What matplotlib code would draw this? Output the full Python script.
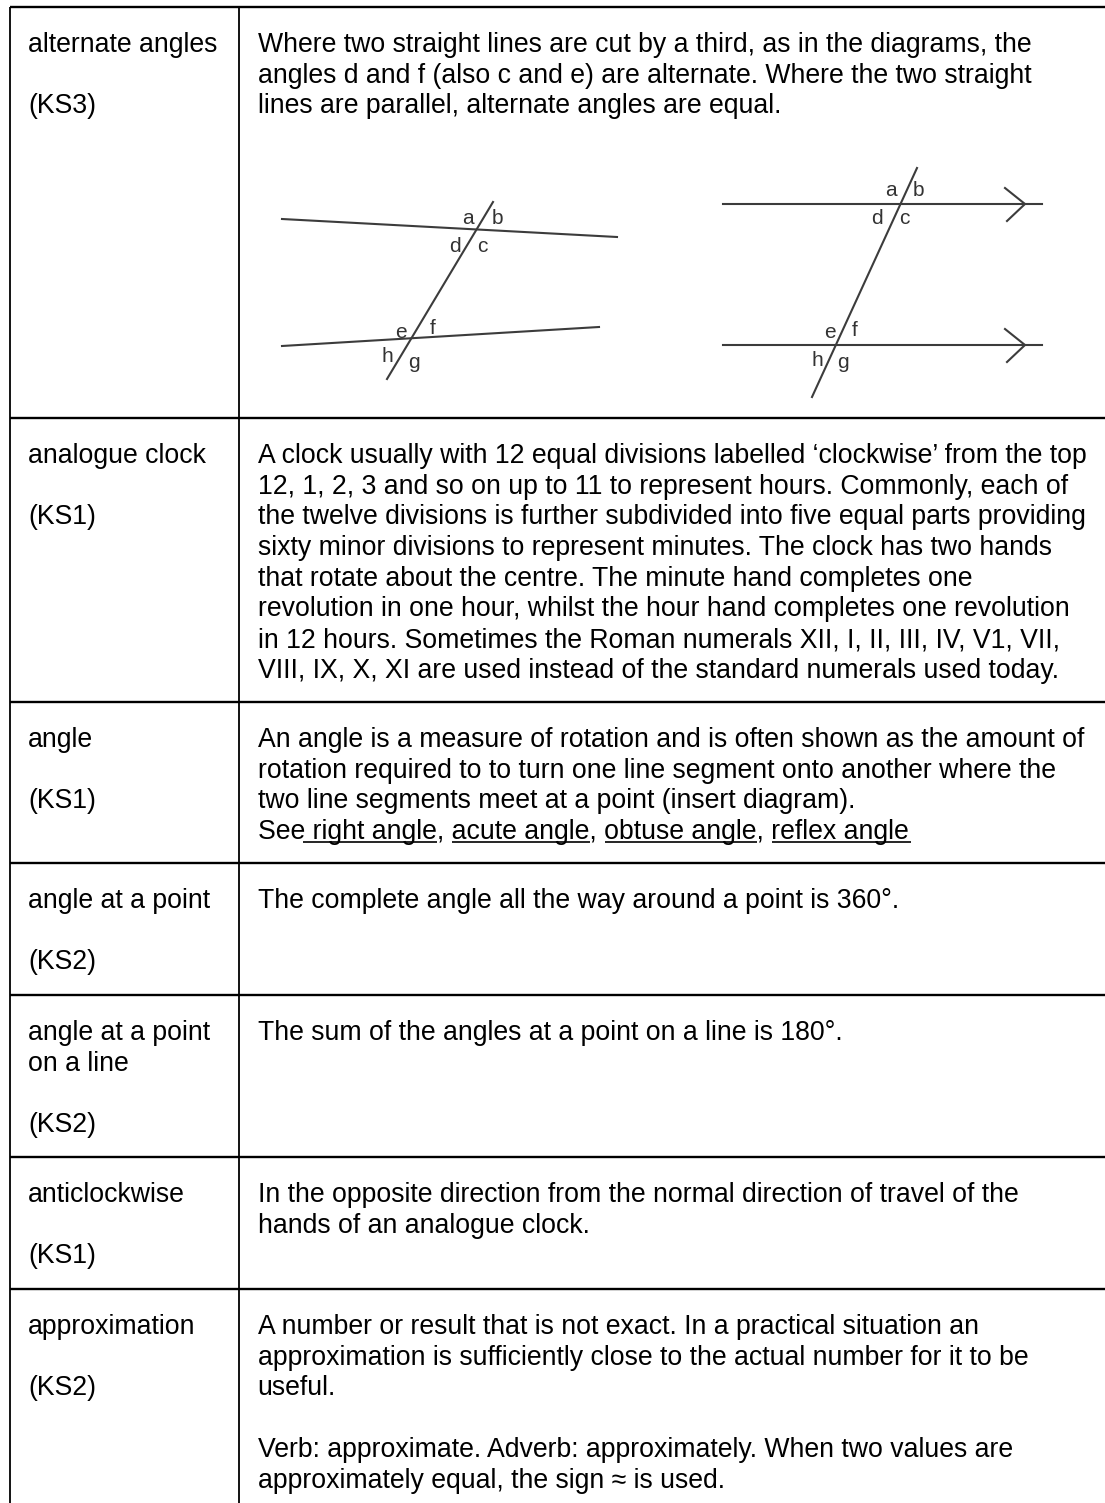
import matplotlib
matplotlib.use('Agg')
import matplotlib.pyplot as plt

W, H = 1105, 1503
plt.rcParams['font.family'] = ['Liberation Sans', 'DejaVu Sans']

# horizontal rules of the table, top to bottom
row_lines = [7, 418, 702, 863, 995, 1157, 1289]
col_lines = [10, 239]

# baselines are counted in text lines from the top of each row
line_h = 30.7
first_base = 45

terms = [
    ['alternate angles'],
    ['analogue clock'],
    ['angle'],
    ['angle at a point'],
    ['angle at a point', 'on a line'],
    ['anticlockwise'],
    ['approximation'],
]
stages = ['(KS3)', '(KS1)', '(KS1)', '(KS2)', '(KS2)', '(KS1)', '(KS2)']
stage_line = [2, 2, 2, 2, 3, 2, 2]

# one list per row, '' is an empty line
body = [
    ['Where two straight lines are cut by a third, as in the diagrams, the',
     'angles d and f (also c and e) are alternate. Where the two straight',
     'lines are parallel, alternate angles are equal.'],
    ['A clock usually with 12 equal divisions labelled ‘clockwise’ from the top',
     '12, 1, 2, 3 and so on up to 11 to represent hours. Commonly, each of',
     'the twelve divisions is further subdivided into five equal parts providing',
     'sixty minor divisions to represent minutes. The clock has two hands',
     'that rotate about the centre. The minute hand completes one',
     'revolution in one hour, whilst the hour hand completes one revolution',
     'in 12 hours. Sometimes the Roman numerals XII, I, II, III, IV, V1, VII,',
     'VIII, IX, X, XI are used instead of the standard numerals used today.'],
    ['An angle is a measure of rotation and is often shown as the amount of',
     'rotation required to to turn one line segment onto another where the',
     'two line segments meet at a point (insert diagram).',
     'See right angle, acute angle, obtuse angle, reflex angle'],
    ['The complete angle all the way around a point is 360°.'],
    ['The sum of the angles at a point on a line is 180°.'],
    ['In the opposite direction from the normal direction of travel of the',
     'hands of an analogue clock.'],
    ['A number or result that is not exact. In a practical situation an',
     'approximation is sufficiently close to the actual number for it to be',
     'useful.',
     '',
     'Verb: approximate. Adverb: approximately. When two values are',
     'approximately equal, the sign ≈ is used.'],
]

# underlined links in the "See ..." line
link_x = [(303, 437), (452, 590), (605, 757), (772, 911)]
link_y = 842

# diagram lines as (x0, y0, x1, y1)
left_lines = [(282, 219, 617, 237), (282, 346, 599, 327), (387, 379, 493, 202)]
right_lines = [(723, 204, 1042, 204), (723, 345, 1042, 345), (812, 397, 917, 168)]
arrow_tips = [(1025, 204), (1025, 345)]
left_labels = [('a', 468, 218), ('b', 497, 218), ('d', 455, 247), ('c', 482, 247),
               ('e', 401, 332), ('f', 433, 328), ('h', 387, 357), ('g', 414, 362)]
right_labels = [('a', 891, 190), ('b', 918, 190), ('d', 877, 218), ('c', 904, 218),
                ('e', 830, 332), ('f', 855, 330), ('h', 817, 360), ('g', 843, 362)]

fig = plt.figure(figsize=(W / 100, H / 100), dpi=100)
ax = fig.add_axes([0, 0, 1, 1])
ax.set_xlim(0, W)
ax.set_ylim(H, 0)
ax.axis('off')

for y in row_lines:
    ax.plot([col_lines[0], W], [y, y], color='black', lw=1.7, solid_capstyle='butt')
for x in col_lines:
    ax.plot([x, x], [row_lines[0], H], color='black', lw=1.3, solid_capstyle='butt')

fs = 19.2
for i, top in enumerate(row_lines):
    base = top + first_base
    for n, t in enumerate(terms[i]):
        ax.text(28, base + n * line_h, t, fontsize=fs, va='baseline')
    ax.text(28, base + stage_line[i] * line_h, stages[i], fontsize=fs, va='baseline')
    for n, t in enumerate(body[i]):
        if t:
            ax.text(257.5, base + n * line_h, t, fontsize=fs, va='baseline')

for x0, x1 in link_x:
    ax.plot([x0, x1], [link_y, link_y], color='black', lw=1.2, solid_capstyle='butt')

for seg in left_lines + right_lines:
    ax.plot([seg[0], seg[2]], [seg[1], seg[3]], color='#3c3c3c', lw=1.5)
for x, y in arrow_tips:
    ax.plot([x - 20, x, x - 18], [y - 16, y, y + 17], color='#3c3c3c', lw=1.5)
for s, x, y in left_labels + right_labels:
    ax.text(x, y, s, fontsize=15, va='center', ha='center', color='#333333')

fig.savefig('out.png', dpi=100)
